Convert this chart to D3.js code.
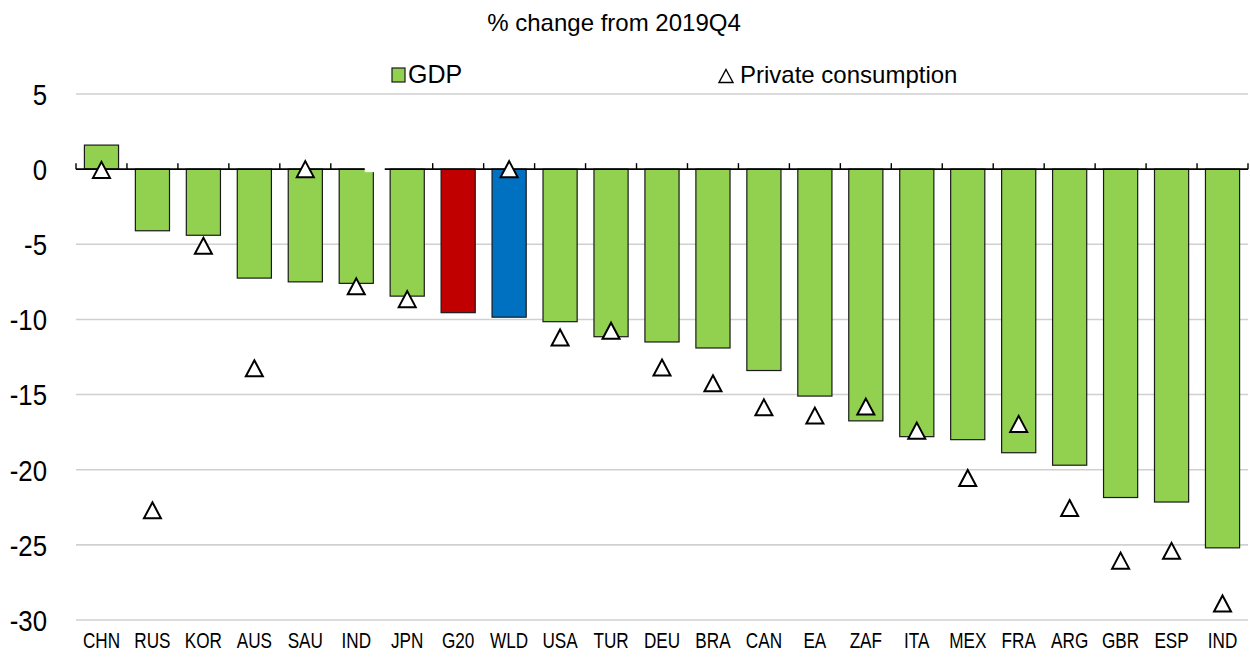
<!DOCTYPE html>
<html>
<head>
<meta charset="utf-8">
<script src="https://cdn.jsdelivr.net/npm/d3@7"></script>
<style>
    body { margin: 0; background: #fff; }
    #chart { width: 1250px; height: 657px; }
</style>
</head>
<body>
<div id="chart"></div>
<script>
// values
let countries = ["CHN", "RUS", "KOR", "AUS", "SAU", "IND", "JPN", "G20", "WLD", "USA", "TUR", "DEU",
    "BRA", "CAN", "EA", "ZAF", "ITA", "MEX", "FRA", "ARG", "GBR", "ESP", "IND "];
let gdp = [1.6, -4.1, -4.4, -7.25, -7.5, -7.6, -8.45, -9.55, -9.85, -10.15, -11.15, -11.5,
    -11.9, -13.4, -15.1, -16.75, -17.8, -18.0, -18.87, -19.7, -21.85, -22.15, -25.2];
let consumption = [-0.05, -22.7, -5.1, -13.25, 0.0, -7.8, -8.65, null, 0.0, -11.2, -10.75, -13.2,
    -14.25, -15.85, -16.4, -15.8, -17.4, -20.55, -16.95, -22.55, -26.05, -25.4, -28.9];
let yTicks = [5, 0, -5, -10, -15, -20, -25, -30];
let highlight = {"G20": "#C00000", "WLD": "#0070C0"};

function render_chart(div) {
    let w = 1250, h = 657;
    let left = 76, right = 1248;
    let font = "'Liberation Sans', Arial, sans-serif";

    let data = countries.map(function(c, i) {
        return {name: c, gdp: gdp[i], pc: consumption[i]};
    });

    let svg = d3.select("#" + div)
        .append("svg")
        .attr("width", w)
        .attr("height", h);

    let x = d3.scaleBand()
        .domain(countries)
        .range([left, right])
        .paddingInner(0.33)
        .paddingOuter(0.165);

    let y = d3.scaleLinear()
        .domain([5, -30])
        .range([94, 620]);

    // gridlines
    svg.append("g")
        .selectAll("line")
        .data(yTicks.filter(function(d){ return d !== 0; }))
        .enter()
        .append("line")
        .attr("x1", left)
        .attr("x2", right)
        .attr("y1", function(d){ return y(d); })
        .attr("y2", function(d){ return y(d); })
        .style("stroke", "#d0d0d0")
        .style("stroke-width", 1.6);

    // y labels (narrow look, squeezed horizontally)
    svg.append("g")
        .selectAll("text")
        .data(yTicks)
        .enter()
        .append("text")
        .attr("transform", function(d){ return "translate(47," + y(d) + ") scale(0.86,1)"; })
        .attr("dy", "0.36em")
        .attr("text-anchor", "end")
        .text(function(d){ return d; })
        .style("font-family", font)
        .style("font-size", "30px")
        .style("fill", "#000");

    // bars
    svg.append("g")
        .selectAll("rect")
        .data(data)
        .enter()
        .append("rect")
        .attr("x", function(d){ return x(d.name); })
        .attr("width", x.bandwidth())
        .attr("y", function(d){ return y(Math.max(0, d.gdp)); })
        .attr("height", function(d){ return Math.abs(y(d.gdp) - y(0)); })
        .style("fill", function(d){ return highlight[d.name] || "#92D050"; })
        .style("stroke", "#1a1a1a")
        .style("stroke-width", 1.2);

    // zero axis with upward ticks at category boundaries
    let zero = svg.append("g");
    zero.append("line")
        .attr("x1", left)
        .attr("x2", right)
        .attr("y1", y(0))
        .attr("y2", y(0))
        .style("stroke", "#000")
        .style("stroke-width", 1.6);
    let bounds = d3.range(countries.length + 1).map(function(i){ return left + i * x.step(); });
    zero.selectAll(".tick")
        .data(bounds)
        .enter()
        .append("line")
        .attr("class", "tick")
        .attr("x1", function(d){ return d; })
        .attr("x2", function(d){ return d; })
        .attr("y1", y(0))
        .attr("y2", y(0) - 6)
        .style("stroke", "#000")
        .style("stroke-width", 1.4);

    // white break between the first IND and JPN
    let brk = bounds[6];
    svg.append("rect")
        .attr("x", brk - 17)
        .attr("y", y(0) - 8)
        .attr("width", 20)
        .attr("height", 11)
        .style("fill", "#fff");

    // private consumption triangles
    let tri = "M0,-8L8.5,8L-8.5,8Z";
    svg.append("g")
        .selectAll("path")
        .data(data.filter(function(d){ return d.pc !== null; }))
        .enter()
        .append("path")
        .attr("d", tri)
        .attr("transform", function(d){
            return "translate(" + (x(d.name) + x.bandwidth() / 2) + "," + y(d.pc) + ")";
        })
        .style("fill", "#fff")
        .style("stroke", "#000")
        .style("stroke-width", 2)
        .style("stroke-linejoin", "miter");

    // x labels
    svg.append("g")
        .selectAll("text")
        .data(data)
        .enter()
        .append("text")
        .attr("transform", function(d){
            return "translate(" + (x(d.name) + x.bandwidth() / 2) + ",648) scale(0.78,1)";
        })
        .attr("text-anchor", "middle")
        .text(function(d){ return d.name.trim(); })
        .style("font-family", font)
        .style("font-size", "22px")
        .style("fill", "#000");

    // title
    svg.append("text")
        .attr("x", 614)
        .attr("y", 31)
        .attr("text-anchor", "middle")
        .text("% change from 2019Q4")
        .style("font-family", font)
        .style("font-size", "24px")
        .style("fill", "#000");

    // legend
    let legend = svg.append("g");
    legend.append("rect")
        .attr("x", 392)
        .attr("y", 68)
        .attr("width", 13)
        .attr("height", 14)
        .style("fill", "#92D050")
        .style("stroke", "#1a1a1a")
        .style("stroke-width", 1.2);
    legend.append("text")
        .attr("x", 408)
        .attr("y", 83)
        .text("GDP")
        .style("font-family", font)
        .style("font-size", "25px")
        .style("fill", "#000");
    legend.append("path")
        .attr("d", "M0,-6.5L7,6.5L-7,6.5Z")
        .attr("transform", "translate(726,76)")
        .style("fill", "#fff")
        .style("stroke", "#000")
        .style("stroke-width", 1.4);
    legend.append("text")
        .attr("x", 740)
        .attr("y", 83)
        .text("Private consumption")
        .style("font-family", font)
        .style("font-size", "24px")
        .style("fill", "#000");
}

render_chart("chart");
</script>
</body>
</html>
